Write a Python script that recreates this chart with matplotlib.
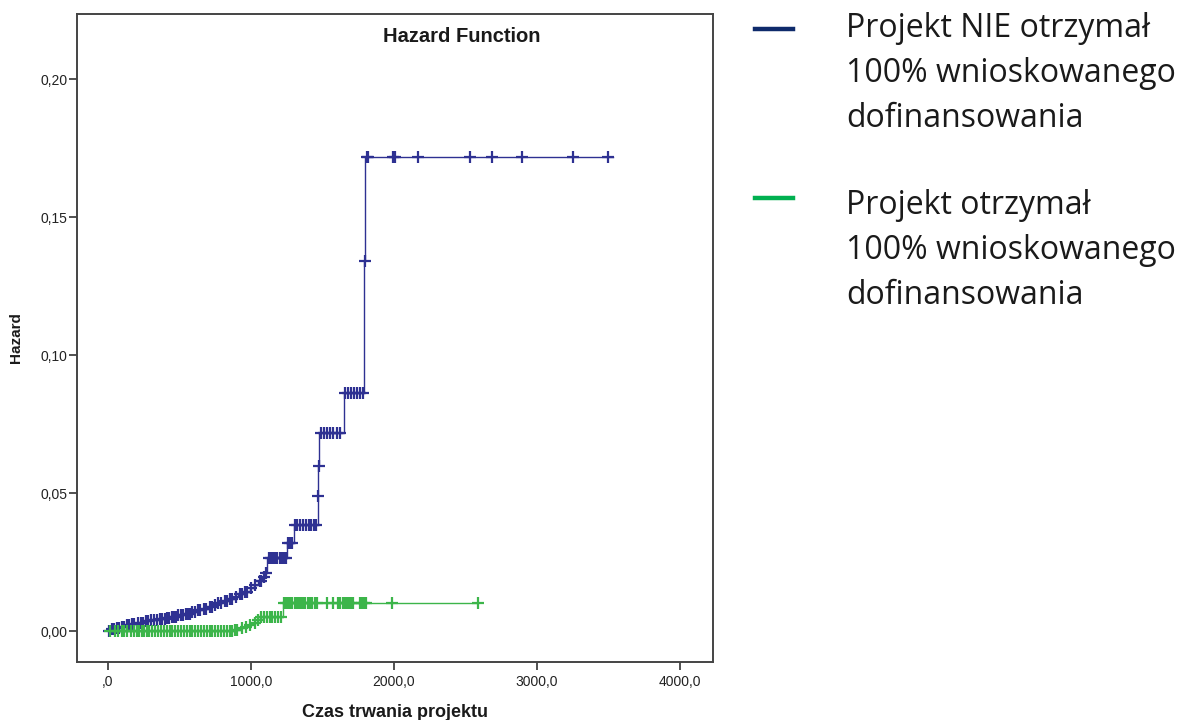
import numpy as np
import matplotlib
matplotlib.use("Agg")
import matplotlib.pyplot as plt
from matplotlib.lines import Line2D

# step points of the hazard curves (time, cumulative hazard after the step)
blue_t = [0, 20, 50, 85, 120, 160, 200, 250, 295, 350, 400, 435, 480, 530, 580, 620,
          660, 700, 730, 760, 800, 840, 880, 910, 950, 990, 1020, 1050, 1080, 1100,
          1115, 1250, 1300, 1466, 1470, 1476, 1648, 1790, 1800, 3530]
blue_h = [0.0, 0.0006, 0.0011, 0.0016, 0.0021, 0.0026, 0.0031, 0.0036, 0.0040, 0.0044,
          0.0048, 0.0052, 0.0057, 0.0062, 0.0068, 0.0075, 0.0081, 0.0087, 0.0093, 0.0100,
          0.0108, 0.0116, 0.0124, 0.0133, 0.0143, 0.0155, 0.0167, 0.0180, 0.0195, 0.0210,
          0.0265, 0.0320, 0.0385, 0.0490, 0.0600, 0.0716, 0.0861, 0.1340, 0.1717, 0.1717]

green_t = [0, 890, 920, 950, 980, 1010, 1040, 1060, 1226, 2590]
green_h = [0.0, 0.0004, 0.0010, 0.0016, 0.0022, 0.0030, 0.0040, 0.0050, 0.0100, 0.0100]

# censoring marks
blue_marks = [10, 30, 45, 60, 75, 95, 110, 130, 150, 170, 185, 210, 230, 245, 265, 280,
              300, 320, 340, 360, 380, 395, 410, 425, 445, 460, 475, 490, 510, 525, 545,
              560, 575, 590, 605, 630, 645, 670, 685, 710, 725, 745, 770, 790, 815, 830,
              855, 870, 895, 920, 935, 960, 975, 1000, 1030, 1060, 1070, 1090, 1105,
              1125, 1140, 1155, 1170, 1185, 1200, 1215, 1230, 1245, 1260, 1275, 1290,
              1310, 1325, 1345, 1365, 1385, 1405, 1420, 1440, 1455, 1468, 1473,
              1490, 1510, 1530, 1550, 1570, 1600, 1625, 1660, 1680, 1700, 1720, 1740,
              1760, 1780, 1795, 1808, 1820, 1995, 2007, 2170, 2531, 2687, 2892, 3254, 3500]
green_marks = [15, 50, 70, 95, 115, 135, 160, 180, 200, 215, 235, 255, 270, 290, 310,
               330, 350, 370, 390, 410, 430, 450, 470, 490, 510, 530, 550, 570, 590, 610,
               630, 650, 670, 690, 710, 730, 750, 770, 790, 810, 830, 850, 870, 890,
               905, 935, 965, 995, 1025, 1050, 1070, 1090, 1110, 1130, 1150, 1170, 1190,
               1210, 1230, 1245, 1260, 1275, 1290, 1305, 1320, 1335, 1350, 1365, 1378,
               1400, 1415, 1430, 1445, 1460, 1530, 1576, 1610, 1625, 1640, 1657, 1670,
               1685, 1700, 1713, 1762, 1775, 1790, 1805, 1983, 2587]

x_ticks = [0, 1000, 2000, 3000, 4000]
x_labels = [",0", "1000,0", "2000,0", "3000,0", "4000,0"]
y_ticks = [0.0, 0.05, 0.10, 0.15, 0.20]
y_labels = ["0,00", "0,05", "0,10", "0,15", "0,20"]

legend_labels = ["Projekt NIE otrzymał\n100% wnioskowanego\ndofinansowania",
                 "Projekt otrzymał\n100% wnioskowanego\ndofinansowania"]

blue = "#2e3192"
green = "#3cb54a"


def step_at(ts, hs, marks):
    ts = np.array(ts)
    hs = np.array(hs)
    idx = np.searchsorted(ts, marks, side="right") - 1
    return hs[idx]


fig = plt.figure(figsize=(11.88, 7.2), dpi=100)
ax = fig.add_axes([77 / 1188, 1 - 662 / 720, 636 / 1188, 648 / 720])

spss = ["Liberation Sans", "DejaVu Sans"]

ax.step(blue_t, blue_h, where="post", color=blue, lw=1.0)
ax.plot(blue_marks, step_at(blue_t, blue_h, blue_marks), ls="none", marker="+",
        ms=9, mew=1.6, color=blue)
ax.step(green_t, green_h, where="post", color=green, lw=1.0)
ax.plot(green_marks, step_at(green_t, green_h, green_marks), ls="none", marker="+",
        ms=9, mew=1.6, color=green)

ax.set_xlim(-217, 4231)
ax.set_ylim(-0.0112, 0.2236)
ax.set_xticks(x_ticks)
ax.set_xticklabels(x_labels, family=spss, fontsize=10, color="#222222")
ax.set_yticks(y_ticks)
ax.set_yticklabels(y_labels, family=spss, fontsize=10, color="#222222")
ax.tick_params(direction="out", length=6, width=1.2, color="#333333")
ax.tick_params(axis="x", pad=3)
ax.tick_params(axis="y", pad=1)
for s in ax.spines.values():
    s.set_color("#444444")
    s.set_linewidth(1.4)

ax.text(0.605, 0.966, "Hazard Function", transform=ax.transAxes, ha="center",
        va="center", fontsize=14.5, fontweight="bold", family=spss, color="#1a1a1a")
ax.set_xlabel("Czas trwania projektu", fontsize=13, fontweight="bold", family=spss,
              labelpad=11, color="#1a1a1a")
ax.set_ylabel("Hazard", fontsize=11, fontweight="bold", family=spss, labelpad=12,
              color="#1a1a1a")

# legend drawn on the figure, right of the plot
leg_colors = ["#0e2a6b", "#00b050"]
leg_y = [29, 198]
leg_base = [37, 214]
for col, yy, yb, lab in zip(leg_colors, leg_y, leg_base, legend_labels):
    fig.add_artist(Line2D([755 / 1188, 793 / 1188], [1 - yy / 720, 1 - yy / 720],
                          color=col, lw=3.2, transform=fig.transFigure))
    for i, line in enumerate(lab.split("\n")):
        fig.text(846 / 1188, 1 - (yb + 45 * i) / 720, line, ha="left", va="baseline",
                 fontsize=23, family="Open Sans", color="#1a1a1a")

fig.savefig("out.png", dpi=100)
